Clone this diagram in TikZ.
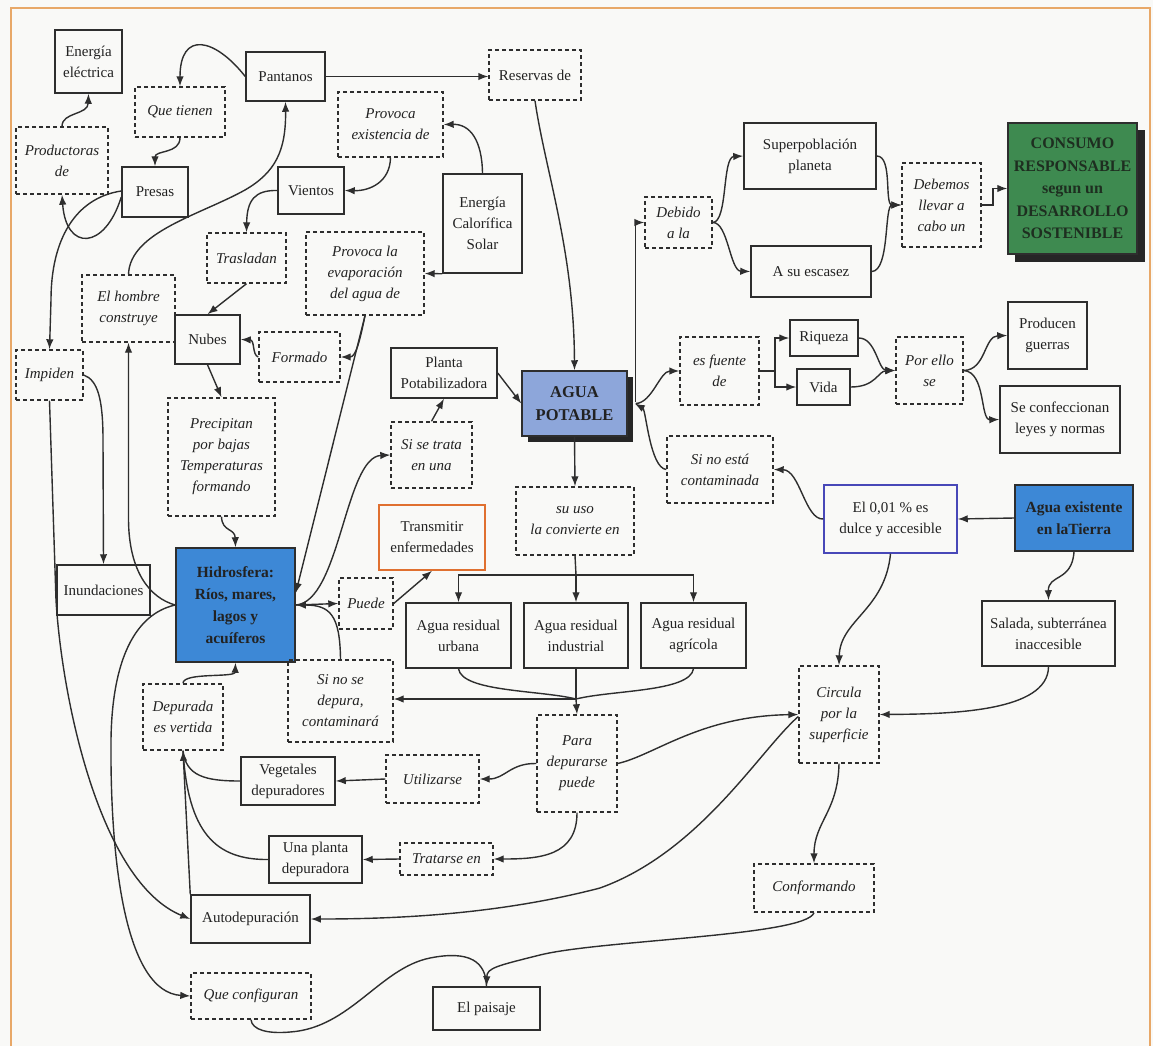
\documentclass[tikz,border=0pt]{standalone}
\usepackage{fontspec}
\setmainfont{Liberation Serif}
\usetikzlibrary{arrows.meta}
\definecolor{dk}{HTML}{2E2E2E}
\definecolor{txt}{HTML}{222222}
\definecolor{bgc}{HTML}{F9F9F7}
\definecolor{framec}{HTML}{E8A868}
\definecolor{aguac}{HTML}{8DA6DA}
\definecolor{hidroc}{HTML}{3D88D6}
\definecolor{consc}{HTML}{3E8A50}
\definecolor{constxt}{HTML}{1E2E20}
\definecolor{shadc}{HTML}{262626}
\definecolor{orangec}{HTML}{E07030}
\definecolor{purplec}{HTML}{4848B8}
\begin{document}
\begin{tikzpicture}[x=1pt,y=-1pt,
  every node/.style={font=\fontsize{15}{21}\selectfont, text=txt, align=center, inner sep=0pt},
  cbox/.style={draw=dk, line width=1.5pt},
  lbox/.style={draw=dk, line width=1.4pt, dash pattern=on 4pt off 3pt, font=\fontsize{15}{21}\selectfont\itshape},
  ubox/.style={draw=dk, line width=1.4pt, dash pattern=on 4pt off 3pt},
  bbox/.style={draw=dk, line width=1.5pt, font=\fontsize{15.5}{22}\selectfont\bfseries},
  conn/.style={draw=dk, line width=1.4pt, -{Latex[length=10pt,width=7.5pt]}},
  plain/.style={draw=dk, line width=1.4pt},
  sz/.style 2 args={minimum width=#1pt, minimum height=#2pt},
]
% page and frame
\fill[bgc] (0,0) rectangle (1153,1046);
\draw[framec, line width=1.5pt] (11,1046) -- (11,8) -- (1150,8) -- (1150,1046);

% shadows
\fill[shadc] (528,377) rectangle (633,442);
\fill[shadc] (1015,130) rectangle (1145,262);

% ---- nodes ----
\node[cbox, sz={67}{63}] (ee) at (88.5,61.5) {Energía\\eléctrica};
\node[cbox, sz={79}{49}] (pant) at (285.5,76.5) {Pantanos};
\node[lbox, sz={90}{50}] (qt) at (180,112) {Que tienen};
\node[lbox, sz={92}{67}] (prod) at (62,160.5) {Productoras\\de};
\node[cbox, sz={66}{50}] (presas) at (155,192) {Presas};
\node[ubox, sz={92}{50}] (reservas) at (535,75) {Reservas de};
\node[lbox, sz={105}{65}] (provex) at (390.5,124.5) {Provoca\\existencia de};
\node[cbox, sz={66}{47}] (vientos) at (311,190.5) {Vientos};
\node[cbox, sz={79}{99}] (ecs) at (482.5,223.5) {Energía\\Calorífica\\Solar};
\node[lbox, sz={79}{50}] (trasl) at (246.5,258) {Trasladan};
\node[lbox, sz={118}{83}] (evap) at (365,273.5) {Provoca la\\evaporación\\del agua de};
\node[lbox, sz={93}{67}] (hombre) at (128.5,308.5) {El hombre\\construye};
\node[cbox, sz={65}{49}] (nubes) at (207.5,339.5) {Nubes};
\node[lbox, sz={81}{50}] (formado) at (299.5,357) {Formado};
\node[lbox, sz={67}{50}] (impiden) at (49.5,375) {Impiden};
\node[cbox, sz={106}{50}] (planta) at (444,373) {Planta\\Potabilizadora};
\node[bbox, fill=aguac, sz={105}{65}, font=\fontsize{16.5}{23}\selectfont\bfseries] (agua) at (574.5,403.5) {AGUA\\POTABLE};
\node[lbox, sz={107}{118}] (precip) at (221.5,457) {Precipitan\\por bajas\\Temperaturas\\formando};
\node[lbox, sz={81}{66}] (sitrata) at (431.5,455) {Si se trata\\en una};
\node[cbox, draw=orangec, sz={106}{65}] (transm) at (432,537.5) {Transmitir\\enfermedades};
\node[lbox, sz={118}{68}] (suuso) at (575,521) {su uso\\la convierte en};
\node[bbox, fill=hidroc, sz={119}{114}] (hidro) at (235.5,605) {Hidrosfera:\\Ríos, mares,\\lagos y\\acuíferos};
\node[cbox, sz={93}{50}] (inund) at (103.5,590) {Inundaciones};
\node[lbox, sz={54}{51}] (puede) at (366,603.5) {Puede};
\node[cbox, sz={105}{65}] (urb) at (458.5,635.5) {Agua residual\\urbana};
\node[cbox, sz={104}{65}] (ind) at (576,635.5) {Agua residual\\industrial};
\node[cbox, sz={105}{65}] (agr) at (693.5,635.5) {Agua residual\\agrícola};
\node[lbox, sz={105}{82}] (sinodep) at (340.5,701) {Si no se\\depura,\\contaminará};
\node[lbox, sz={80}{66}] (deprv) at (183,717) {Depurada\\es vertida};
\node[lbox, sz={80}{97}] (para) at (577,763.5) {Para\\depurarse\\puede};
\node[lbox, sz={93}{48}] (utiliz) at (432.5,779) {Utilizarse};
\node[cbox, sz={94}{48}] (veget) at (288,781) {Vegetales\\depuradores};
\node[cbox, sz={93}{47}] (unapl) at (315.5,859.5) {Una planta\\depuradora};
\node[lbox, sz={93}{32}] (tratar) at (446.5,859) {Tratarse en};
\node[cbox, sz={119}{48}] (autod) at (250.5,919) {Autodepuración};
\node[lbox, sz={120}{46}] (queconf) at (251,996) {Que configuran};
\node[cbox, sz={107}{43}] (paisaje) at (486.5,1008.5) {El paisaje};
\node[lbox, sz={120}{48}] (conform) at (814,888) {Conformando};
\node[lbox, sz={80}{97}] (circula) at (839,714.5) {Circula\\por la\\superficie};
\node[cbox, draw=purplec, sz={133}{68}] (dulce) at (890.5,519) {El 0,01 \% es\\dulce y accesible};
\node[bbox, fill=hidroc, sz={118}{66}] (tierra) at (1074,518) {Agua existente\\en laTierra};
\node[cbox, sz={133}{65}] (salada) at (1048.5,633.5) {Salada, subterránea\\inaccesible};
\node[lbox, sz={106}{67}] (sinoesta) at (720,469.5) {Si no está\\contaminada};
\node[lbox, sz={79}{68}] (fuente) at (719.5,371) {es fuente\\de};
\node[cbox, sz={68}{36}] (riqueza) at (824,338) {Riqueza};
\node[cbox, sz={53}{36}] (vida) at (823.5,387) {Vida};
\node[lbox, sz={67}{67}] (porello) at (929.5,370.5) {Por ello\\se};
\node[cbox, sz={79}{67}] (guerras) at (1047.5,335.5) {Producen\\guerras};
\node[cbox, sz={120}{67}] (leyes) at (1060,419.5) {Se confeccionan\\leyes y normas};
\node[lbox, sz={67}{51}] (debido) at (678.5,222.5) {Debido\\a la};
\node[cbox, sz={132}{66}] (superp) at (810,156) {Superpoblación\\planeta};
\node[cbox, sz={120}{51}] (escasez) at (811,271.5) {A su escasez};
\node[lbox, sz={79}{84}] (debemos) at (941.5,205) {Debemos\\llevar a\\cabo un};
\node[bbox, fill=consc, text=constxt, sz={129}{131}, font=\fontsize{16}{22.5}\selectfont\bfseries] (consumo) at (1072.5,188.5) {CONSUMO\\RESPONSABLE\\segun un\\DESARROLLO\\SOSTENIBLE};

\coordinate (bar) at (576,575);
\coordinate (merge) at (576,699);
\coordinate (fsplit) at (775,371);

% ---- connectors ----
\draw[conn] (prod.north) .. controls (62,112) and (88,115) .. (ee.south);
\draw[conn] (pant.west) .. controls (215,38) and (180,30) .. (qt.north);
\draw[conn] (qt.south) .. controls (180,154) and (155,150) .. (presas.north);
\draw[conn] ([yshift=-5pt]presas.west) .. controls (105,250) and (66,252) .. (prod.south);
\draw[conn] ([yshift=1pt]presas.west) .. controls (75,198) and (51,240) .. (51,300) -- (impiden.north);
\draw[conn] (hombre.north) .. controls (130,232) and (200,215) .. (245,190) .. controls (276,172) and (286,150) .. (pant.south);
\draw[conn] (pant.east) -- (pant.east -| reservas.west);
\draw[conn] (reservas.south) .. controls (545,170) and (574,250) .. (agua.north);
\draw[conn] (ecs.north) .. controls (482,140) and (470,124) .. (provex.east);
\draw[conn] (provex.south) .. controls (390,182) and (370,191) .. (vientos.east);
\draw[conn] (vientos.west) .. controls (255,190) and (247,200) .. (trasl.north);
\draw[conn] (ecs.south west) -- (evap.east);
\draw[conn] (trasl.south) -- (nubes.north);
\draw[conn] (evap.south) .. controls (360,340) and (356,357) .. (formado.east);
\draw[conn] (evap.south) -- ([yshift=12pt]hidro.east);
\draw[conn] (formado.west) .. controls (252,355) and (255,340) .. (nubes.east);
\draw[conn] (nubes.south) -- (precip.north);
\draw[conn] (planta.east) -- (agua.west);
\draw[conn] (sitrata.north) -- (planta.south);
\draw[conn] (hidro.east) .. controls (340,602) and (345,457) .. (sitrata.west);
\draw[conn] (agua.south) -- (suuso.north);
\draw[conn] ([xshift=8pt,yshift=2pt]agua.east) |- (debido.west);
\draw[conn] ([xshift=8pt]agua.east) .. controls (652,403) and (660,371) .. (fuente.west);
\draw[conn] (sinoesta.west) .. controls (650,468) and (646,410) .. ([xshift=7pt]agua.east);
\draw[conn] (debido.east) .. controls (728,222) and (722,157) .. (superp.west);
\draw[conn] (debido.east) .. controls (728,222) and (730,271) .. (escasez.west);
\draw[conn] (superp.east) .. controls (893,156) and (884,205) .. (debemos.west);
\draw[conn] (escasez.east) .. controls (890,271) and (884,205) .. (debemos.west);
\draw[conn] (debemos.east) -- (993,205) |- (consumo.west);
\draw[plain] (fuente.east) -- (fsplit);
\draw[conn] (fsplit) |- (riqueza.west);
\draw[conn] (fsplit) |- (vida.west);
\draw[conn] (riqueza.east) .. controls (876,338) and (878,370) .. (porello.west);
\draw[conn] (vida.east) .. controls (876,387) and (878,371) .. (porello.west);
\draw[conn] (porello.east) .. controls (986,370) and (984,336) .. (guerras.west);
\draw[conn] (porello.east) .. controls (986,372) and (980,420) .. (leyes.west);
\draw[conn] (dulce.west) .. controls (805,520) and (800,470) .. (sinoesta.east);
\draw[conn] (tierra.west) -- (dulce.east);
\draw[conn] (tierra.south) .. controls (1072,582) and (1048,574) .. (salada.north);
\draw[conn] (salada.south) .. controls (1048,712) and (950,714) .. (circula.east);
\draw[conn] (dulce.south) .. controls (885,610) and (840,620) .. (circula.north);
\draw[plain] (suuso.south) -- (bar);
\draw[conn] (bar) -| (urb.north);
\draw[conn] (bar) -- (ind.north);
\draw[conn] (bar) -| (agr.north);
\draw[plain] (urb.south) .. controls (462,692) and (540,690) .. (merge);
\draw[plain] (agr.south) .. controls (690,692) and (612,690) .. (merge);
\draw[plain] (ind.south) -- (merge);
\draw[conn] (merge) -- (para.north);
\draw[conn] (merge) -- (merge -| sinodep.east);
\draw[conn] (para.east) .. controls (655,755) and (700,716) .. (circula.west);
\draw[conn] ([yshift=-2pt]circula.west) .. controls (760,750) and (700,852) .. (600,888) .. controls (500,914) and (400,919) .. (autod.east);
\draw[conn] (circula.south) .. controls (838,812) and (814,822) .. (conform.north);
\draw[conn] (conform.south) .. controls (806,936) and (600,940) .. (540,955) .. controls (496,966) and (487,968) .. (paisaje.north);
\draw[plain] (queconf.south) .. controls (252,1030) and (268,1034) .. (290,1032) .. controls (350,1028) and (380,968) .. (430,958) .. controls (470,950) and (486,962) .. (paisaje.north);
\draw[conn] (hidro.west) .. controls (135,614) and (112,660) .. (111,740) .. controls (110,860) and (125,992) .. (queconf.west);
\draw[conn] (hidro.west) .. controls (150,598) and (129,572) .. (128.5,520) -- (hombre.south);
\draw[conn] (impiden.east) .. controls (98,380) and (103,400) .. (103,440) -- (inund.north);
\draw[conn] (impiden.south) -- (56,600) .. controls (62,700) and (100,882) .. (autod.west);
\draw[conn] (precip.south) .. controls (222,532) and (235,528) .. (hidro.north);
\draw[conn] (deprv.north) .. controls (183,672) and (235,678) .. (hidro.south);
\draw[conn] (autod.north west) -- (deprv.south);
\draw[plain] (veget.west) .. controls (205,781) and (186,776) .. (deprv.south);
\draw[plain] (unapl.west) .. controls (215,860) and (188,832) .. (deprv.south);
\draw[conn] (utiliz.west) -- (veget.east);
\draw[conn] (para.west) .. controls (510,763) and (505,779) .. (utiliz.east);
\draw[conn] (para.south) .. controls (577,856) and (540,859) .. (tratar.east);
\draw[conn] (tratar.west) -- (unapl.east);
\draw[conn] (sinodep.north) .. controls (340,615) and (330,605) .. (hidro.east);
\draw[conn] (hidro.east) -- (puede.west);
\draw[conn] (puede.east) -- (transm.south);
\end{tikzpicture}
\end{document}
